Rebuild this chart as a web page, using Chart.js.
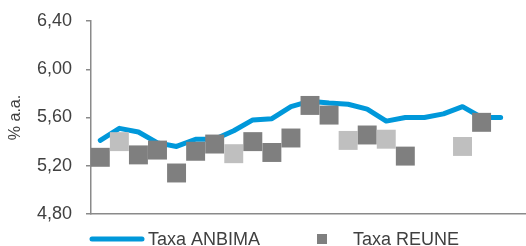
<!DOCTYPE html>
<html>
<head>
<meta charset="utf-8">
<script src="https://cdn.jsdelivr.net/npm/chart.js@4/dist/chart.umd.min.js"></script>
<style>
html,body{margin:0;padding:0;background:#fff;}
#wrap{width:526px;height:246px;position:relative;}
</style>
</head>
<body>
<div id="wrap"><canvas id="c" width="526" height="246"></canvas></div>
<script>
const categories = ['1','2','3','4','5','6','7','8','9','10','11','12','13','14','15','16','17','18','19','20','21','22'];
const anbima = [5.41, 5.51, 5.48, 5.39, 5.36, 5.42, 5.42, 5.49, 5.58, 5.59, 5.69, 5.735, 5.72, 5.71, 5.67, 5.57, 5.60, 5.60, 5.63, 5.69, 5.60, 5.60];
const reune  = [5.27, 5.40, 5.29, 5.33, 5.14, 5.32, 5.38, 5.30, 5.40, 5.31, 5.43, 5.70, 5.62, 5.41, 5.455, 5.42, 5.28, null, null, 5.36, 5.56, null];
const reuneTone = ['d','l','d','d','d','d','d','l','d','d','d','d','d','l','d','l','d','d','d','l','d','d'];
const yTicks = [4.80, 5.20, 5.60, 6.00, 6.40];
const seriesNames = ['Taxa ANBIMA', 'Taxa REUNE'];

const DARK = '#7f7f7f', LIGHT = '#bfbfbf', BLUE = '#0098da', TXT = '#404040', AXIS = '#8a8a8a';
const FONT = "'Liberation Sans', Arial, sans-serif";

const legendPlugin = {
  id: 'customLegend',
  afterDraw(chart) {
    const ctx = chart.ctx;
    ctx.save();
    ctx.strokeStyle = BLUE; ctx.lineWidth = 5; ctx.lineCap = 'round';
    ctx.beginPath(); ctx.moveTo(92, 239); ctx.lineTo(142, 239); ctx.stroke();
    ctx.fillStyle = TXT; ctx.font = "18px " + FONT; ctx.textBaseline = 'alphabetic'; ctx.textAlign = 'left';
    ctx.fillText(seriesNames[0], 148, 245);
    ctx.fillStyle = DARK; ctx.fillRect(317, 234, 10, 10);
    ctx.fillStyle = TXT;
    ctx.fillText(seriesNames[1], 353, 245);
    ctx.restore();
  }
};

new Chart(document.getElementById('c'), {
  type: 'line',
  data: {
    datasets: [
      {
        label: seriesNames[1],
        data: reune.map((v, i) => ({x: i, y: v})),
        showLine: false,
        pointStyle: 'rect',
        pointRadius: 13.4,
        pointHoverRadius: 13.4,
        pointBorderWidth: 0,
        pointBackgroundColor: reuneTone.map(t => t === 'l' ? LIGHT : DARK),
        pointBorderColor: reuneTone.map(t => t === 'l' ? LIGHT : DARK),
        order: 1
      },
      {
        label: seriesNames[0],
        data: anbima.map((v, i) => ({x: i, y: v})),
        borderColor: BLUE,
        borderWidth: 5,
        borderCapStyle: 'round',
        borderJoinStyle: 'round',
        tension: 0,
        pointRadius: 0,
        fill: false,
        order: 2
      }
    ]
  },
  options: {
    responsive: false,
    animation: false,
    events: [],
    layout: { autoPadding: false, padding: { top: 21, bottom: 32, left: 0, right: 0 } },
    plugins: { legend: { display: false }, tooltip: { enabled: false } },
    scales: {
      x: {
        type: 'linear',
        min: -0.488,
        max: 22.33,
        afterFit(scale) { scale.height = 0; scale.paddingLeft = 0; scale.paddingRight = 0; },
        ticks: { display: false },
        grid: { display: false },
        border: { display: true, color: AXIS, width: 1.5 }
      },
      y: {
        min: 4.8,
        max: 6.4,
        afterBuildTicks(scale) { scale.ticks = yTicks.map(v => ({value: v})); },
        afterFit(scale) { scale.width = 91; scale.paddingTop = 0; scale.paddingBottom = 0; },
        ticks: {
          padding: 14,
          color: TXT,
          font: { family: FONT, size: 18 },
          callback: v => Number(v).toFixed(2).replace('.', ',')
        },
        grid: { drawOnChartArea: false, drawTicks: true, tickLength: 5, color: AXIS, lineWidth: 1.5 },
        border: { display: true, color: AXIS, width: 1.5 },
        title: { display: true, text: '% a.a.', color: TXT, font: { family: FONT, size: 16 }, padding: { top: 6, bottom: 0 } }
      }
    }
  },
  plugins: [legendPlugin]
});
</script>
</body>
</html>
